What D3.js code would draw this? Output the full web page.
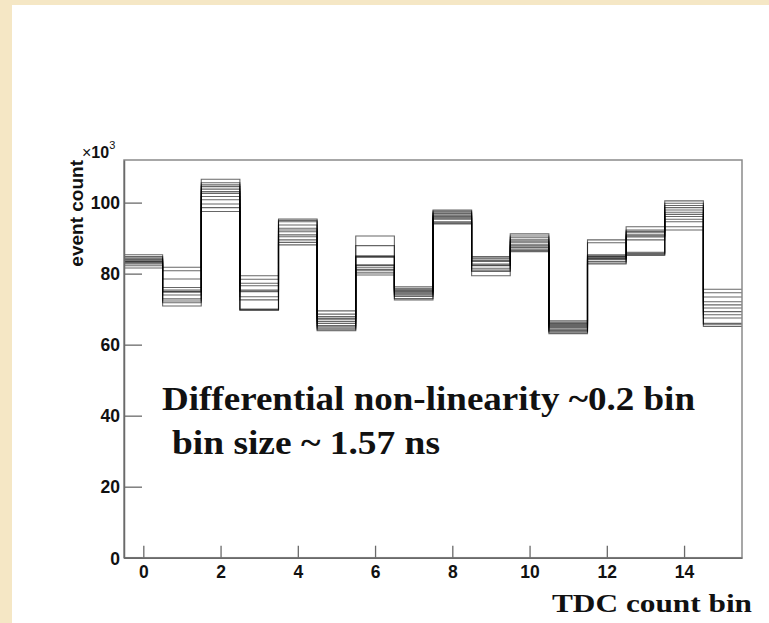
<!DOCTYPE html>
<html>
<head>
<meta charset="utf-8">
<script src="https://cdn.jsdelivr.net/npm/d3@7/dist/d3.min.js"></script>
<style>
  html, body { margin: 0; padding: 0; background: #fff; }
  svg { display: block; }
</style>
</head>
<body>
<svg id="graphArea" width="769" height="623"></svg>
<script>

// TDC bins (bin centres)
const bins = [0, 1, 2, 3, 4, 5, 6, 7, 8, 9, 10, 11, 12, 13, 14, 15];

// tick labels
const xTickLabels = [0, 2, 4, 6, 8, 10, 12, 14];
const yTickLabels = [0, 20, 40, 60, 80, 100];

// event counts per bin, one array per channel (x10^3)
const ch01 = [85.3, 74.0, 105.0, 70.0, 92.8, 63.9, 82.3, 75.9, 95.3, 83.7, 86.5, 65.1, 89.5, 89.5, 99.2, 66.0];
const ch02 = [83.6, 81.8, 101.7, 77.3, 89.5, 67.0, 79.6, 74.6, 97.6, 81.5, 89.5, 63.5, 84.6, 93.2, 96.1, 73.4];
const ch03 = [82.2, 75.0, 106.6, 73.5, 94.6, 64.6, 84.6, 72.6, 95.9, 84.4, 87.4, 65.7, 83.0, 90.6, 100.5, 68.4];
const ch04 = [84.1, 71.8, 103.1, 79.4, 90.9, 67.9, 80.8, 75.1, 94.0, 82.4, 90.6, 64.1, 85.0, 85.4, 97.3, 75.6];
const ch05 = [83.0, 76.1, 98.6, 75.1, 95.4, 65.4, 85.0, 73.6, 96.5, 79.4, 88.1, 66.3, 83.9, 91.5, 93.2, 70.3];
const ch06 = [84.8, 72.9, 104.5, 69.8, 92.3, 69.5, 81.8, 75.6, 94.6, 83.4, 86.2, 64.8, 88.7, 86.0, 98.6, 65.6];
const ch07 = [83.4, 80.8, 100.8, 76.6, 88.8, 66.5, 90.6, 74.3, 97.3, 81.0, 89.1, 63.1, 84.3, 92.3, 95.3, 72.1];
const ch08 = [81.6, 74.8, 105.6, 72.6, 93.7, 64.2, 82.5, 76.3, 95.6, 84.1, 86.9, 65.4, 82.7, 90.3, 99.8, 67.5];
const ch09 = [83.9, 70.9, 102.6, 78.4, 90.4, 67.4, 80.2, 74.9, 97.9, 82.2, 90.1, 63.8, 84.8, 85.1, 96.7, 74.6];
const ch10 = [82.7, 75.4, 97.5, 74.9, 95.0, 65.0, 84.8, 73.0, 96.2, 84.8, 87.8, 66.0, 83.4, 90.9, 92.3, 69.3];
const ch11 = [84.4, 72.3, 103.8, 69.7, 91.8, 68.6, 81.2, 75.3, 94.3, 82.7, 91.2, 64.4, 85.3, 85.7, 97.9, 65.1];
const ch12 = [83.2, 78.5, 99.6, 75.4, 88.1, 66.0, 87.9, 74.0, 96.9, 80.6, 88.7, 66.7, 84.1, 91.9, 94.6, 71.2];

const channels = [ch01, ch02, ch03, ch04, ch05, ch06, ch07, ch08, ch09, ch10, ch11, ch12];


class StepGraph {

  /* constructor */
  constructor(svgId, series, frame) {
    let svg = d3.select(`#${svgId}`);
    this.svg = svg;
    this.series = series;
    this.frame = frame;

    // slide background strips
    this.drawBackground();

    // scales
    this.x = d3.scaleLinear()
      .domain([-0.5, 15.5])
      .range([frame.left, frame.right]);
    this.y = d3.scaleLinear()
      .domain([0, 112])
      .range([frame.bottom, frame.top]);

    // histograms
    this.drawSteps();

    // frame + axes
    this.drawFrame();
    this.drawXAxis();
    this.drawYAxis();

    // texts
    this.drawTexts();
  }

  /* beige strips of the slide */
  drawBackground() {
    this.svg.append("rect")
      .attr("x", 0).attr("y", 0)
      .attr("width", 769).attr("height", 5)
      .attr("fill", "#f5e7c5");
    this.svg.append("rect")
      .attr("x", 0).attr("y", 0)
      .attr("width", 12).attr("height", 623)
      .attr("fill", "#f5e7c5");
  }

  /* one step line per channel */
  drawSteps() {
    let line = d3.line()
      .x(d => this.x(d[0]))
      .y(d => this.y(d[1]))
      .curve(d3.curveStepAfter);

    this.series.forEach(vals => {
      let pts = bins.map((b, i) => [b - 0.5, vals[i]]);
      pts.push([bins[bins.length - 1] + 0.5, vals[vals.length - 1]]);
      this.svg.append("path")
        .datum(pts)
        .attr("d", line)
        .attr("fill", "none")
        .attr("stroke", "#000")
        .attr("stroke-opacity", 0.6)
        .attr("stroke-width", 1.1);
    });
  }

  /* frame around the plot */
  drawFrame() {
    let f = this.frame;
    this.svg.append("rect")
      .attr("x", f.left).attr("y", f.top)
      .attr("width", f.right - f.left)
      .attr("height", f.bottom - f.top)
      .attr("fill", "none")
      .attr("stroke", "#8a8a8a")
      .attr("stroke-width", 1.5);
  }

  /* x axis, ticks drawn inside the frame */
  drawXAxis() {
    let f = this.frame;
    let g = this.svg.append("g")
      .attr("class", "x-axis")
      .attr("transform", `translate(0,${f.bottom})`);

    g.call(d3.axisBottom(this.x)
      .tickValues(d3.range(-0.5, 15.51, 0.5).filter(v => v % 2 !== 0))
      .tickSizeInner(-6).tickSizeOuter(0)
      .tickFormat(""));

    g.call(d3.axisBottom(this.x)
      .tickValues(xTickLabels)
      .tickSizeInner(-12).tickSizeOuter(0)
      .tickPadding(0)
      .tickFormat(d3.format("d")));

    this.styleAxis(g);
    g.selectAll("text")
      .attr("y", 20)
      .attr("dy", 0);
  }

  /* y axis, ticks drawn inside the frame */
  drawYAxis() {
    let f = this.frame;
    let g = this.svg.append("g")
      .attr("class", "y-axis")
      .attr("transform", `translate(${f.left},0)`);

    g.call(d3.axisLeft(this.y)
      .tickValues(d3.range(5, 112, 5).filter(v => v % 20 !== 0))
      .tickSizeInner(-9).tickSizeOuter(0)
      .tickFormat(""));

    g.call(d3.axisLeft(this.y)
      .tickValues(yTickLabels)
      .tickSizeInner(-18).tickSizeOuter(0)
      .tickFormat(d3.format("d")));

    this.styleAxis(g);
    g.selectAll("text")
      .attr("x", -4)
      .attr("dy", "0.36em");
  }

  /* common style of axis lines and labels */
  styleAxis(g) {
    g.selectAll("path")
      .attr("stroke", "#6a6a6a")
      .attr("stroke-width", 1.5);
    g.selectAll("line")
      .attr("stroke", "#6a6a6a")
      .attr("stroke-width", 1.3);
    g.selectAll("text")
      .attr("fill", "#111")
      .style("font-family", "'Liberation Sans', Arial, sans-serif")
      .style("font-weight", "bold")
      .style("font-size", "17.5px");
  }

  /* titles and annotation */
  drawTexts() {
    let f = this.frame;
    let sans = "'Liberation Sans', Arial, sans-serif";
    let serif = "'Liberation Serif', 'Times New Roman', serif";

    // y title
    this.svg.append("text")
      .attr("transform", `translate(82.5,${f.top}) rotate(-90)`)
      .attr("text-anchor", "end")
      .style("font-family", sans)
      .style("font-weight", "bold")
      .style("font-size", "19px")
      .attr("fill", "#111")
      .text("event count");

    // exponent of the y axis
    let ex = this.svg.append("text")
      .attr("x", 82).attr("y", 158)
      .style("font-family", sans)
      .attr("fill", "#111");
    ex.append("tspan").style("font-size", "16px").text("\u00d7");
    ex.append("tspan").style("font-size", "16px").style("font-weight", "bold").text("10");
    ex.append("tspan").style("font-size", "11px").attr("dy", -9).text("3");

    // x title
    this.svg.append("text")
      .attr("x", 552).attr("y", 612)
      .attr("textLength", 200)
      .attr("lengthAdjust", "spacingAndGlyphs")
      .style("font-family", serif)
      .style("font-weight", "bold")
      .style("font-size", "26px")
      .attr("fill", "#111")
      .text("TDC count bin");

    // annotation
    this.svg.append("text")
      .attr("x", 162).attr("y", 410)
      .attr("textLength", 533)
      .attr("lengthAdjust", "spacingAndGlyphs")
      .style("font-family", serif)
      .style("font-weight", "bold")
      .style("font-size", "34px")
      .attr("fill", "#111")
      .text("Differential non-linearity ~0.2 bin");

    this.svg.append("text")
      .attr("x", 172).attr("y", 454)
      .attr("textLength", 268)
      .attr("lengthAdjust", "spacingAndGlyphs")
      .style("font-family", serif)
      .style("font-weight", "bold")
      .style("font-size", "34px")
      .attr("fill", "#111")
      .text("bin size ~ 1.57 ns");
  }

}

/* main */
let frame = {left: 124, right: 742, top: 160, bottom: 557.7};
let graph = new StepGraph("graphArea", channels, frame);

</script>
</body>
</html>
